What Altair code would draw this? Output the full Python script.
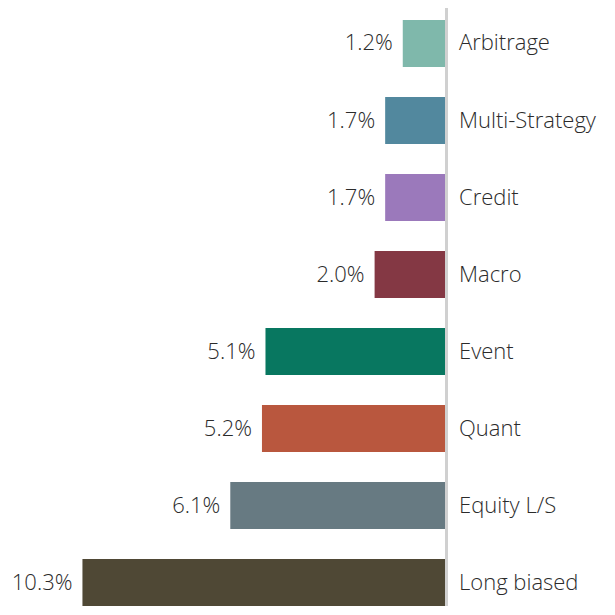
import altair as alt
import pandas as pd

categories = ["Arbitrage", "Multi-Strategy", "Credit", "Macro", "Event", "Quant", "Equity L/S", "Long biased"]
values = [1.2, 1.7, 1.7, 2.0, 5.1, 5.2, 6.1, 10.3]
colors = ["#7fb8ab", "#52889e", "#9b79bb", "#843844", "#087760", "#b9573e", "#677a82", "#4f4835"]

df = pd.DataFrame({"cat": categories, "val": values, "label": [f"{v:.1f}%" for v in values]})

W, H = 437, 598
FONT = "Open Sans"

x = alt.X("val:Q", scale=alt.Scale(domain=[0, 12.415], reverse=True, nice=False, zero=True), axis=None)
y = alt.Y("cat:N", sort=categories,
          scale=alt.Scale(paddingInner=0.39, paddingOuter=0.078, align=1), axis=None)

bars = alt.Chart(df).mark_bar().encode(
    x=x, y=y,
    color=alt.Color("cat:N", scale=alt.Scale(domain=categories, range=colors), legend=None),
)

vlabels = alt.Chart(df).mark_text(align="right", baseline="middle", dx=-10,
                                  font=FONT, fontSize=22, fontWeight=300, color="#2b2b2b").encode(
    x=x, y=y, text="label:N")

clabels = alt.Chart(df).mark_text(align="left", baseline="middle",
                                  font=FONT, fontSize=22, fontWeight=300, color="#2b2b2b").encode(
    x=alt.value(451), y=y, text="cat:N")

rule = alt.Chart(df).mark_rule(color="#d0d0d0", strokeWidth=3).encode(
    x=alt.value(438.5), y=alt.value(-5), y2=alt.value(H + 10))

chart = alt.layer(bars, rule, vlabels, clabels).properties(
    width=W, height=H,
    autosize=alt.AutoSizeParams(type="none"),
    padding={"left": 0, "top": 0, "right": 160, "bottom": 0},
).configure_view(stroke=None)

chart.save("out.html", embed_options={"renderer": "svg", "actions": False})
